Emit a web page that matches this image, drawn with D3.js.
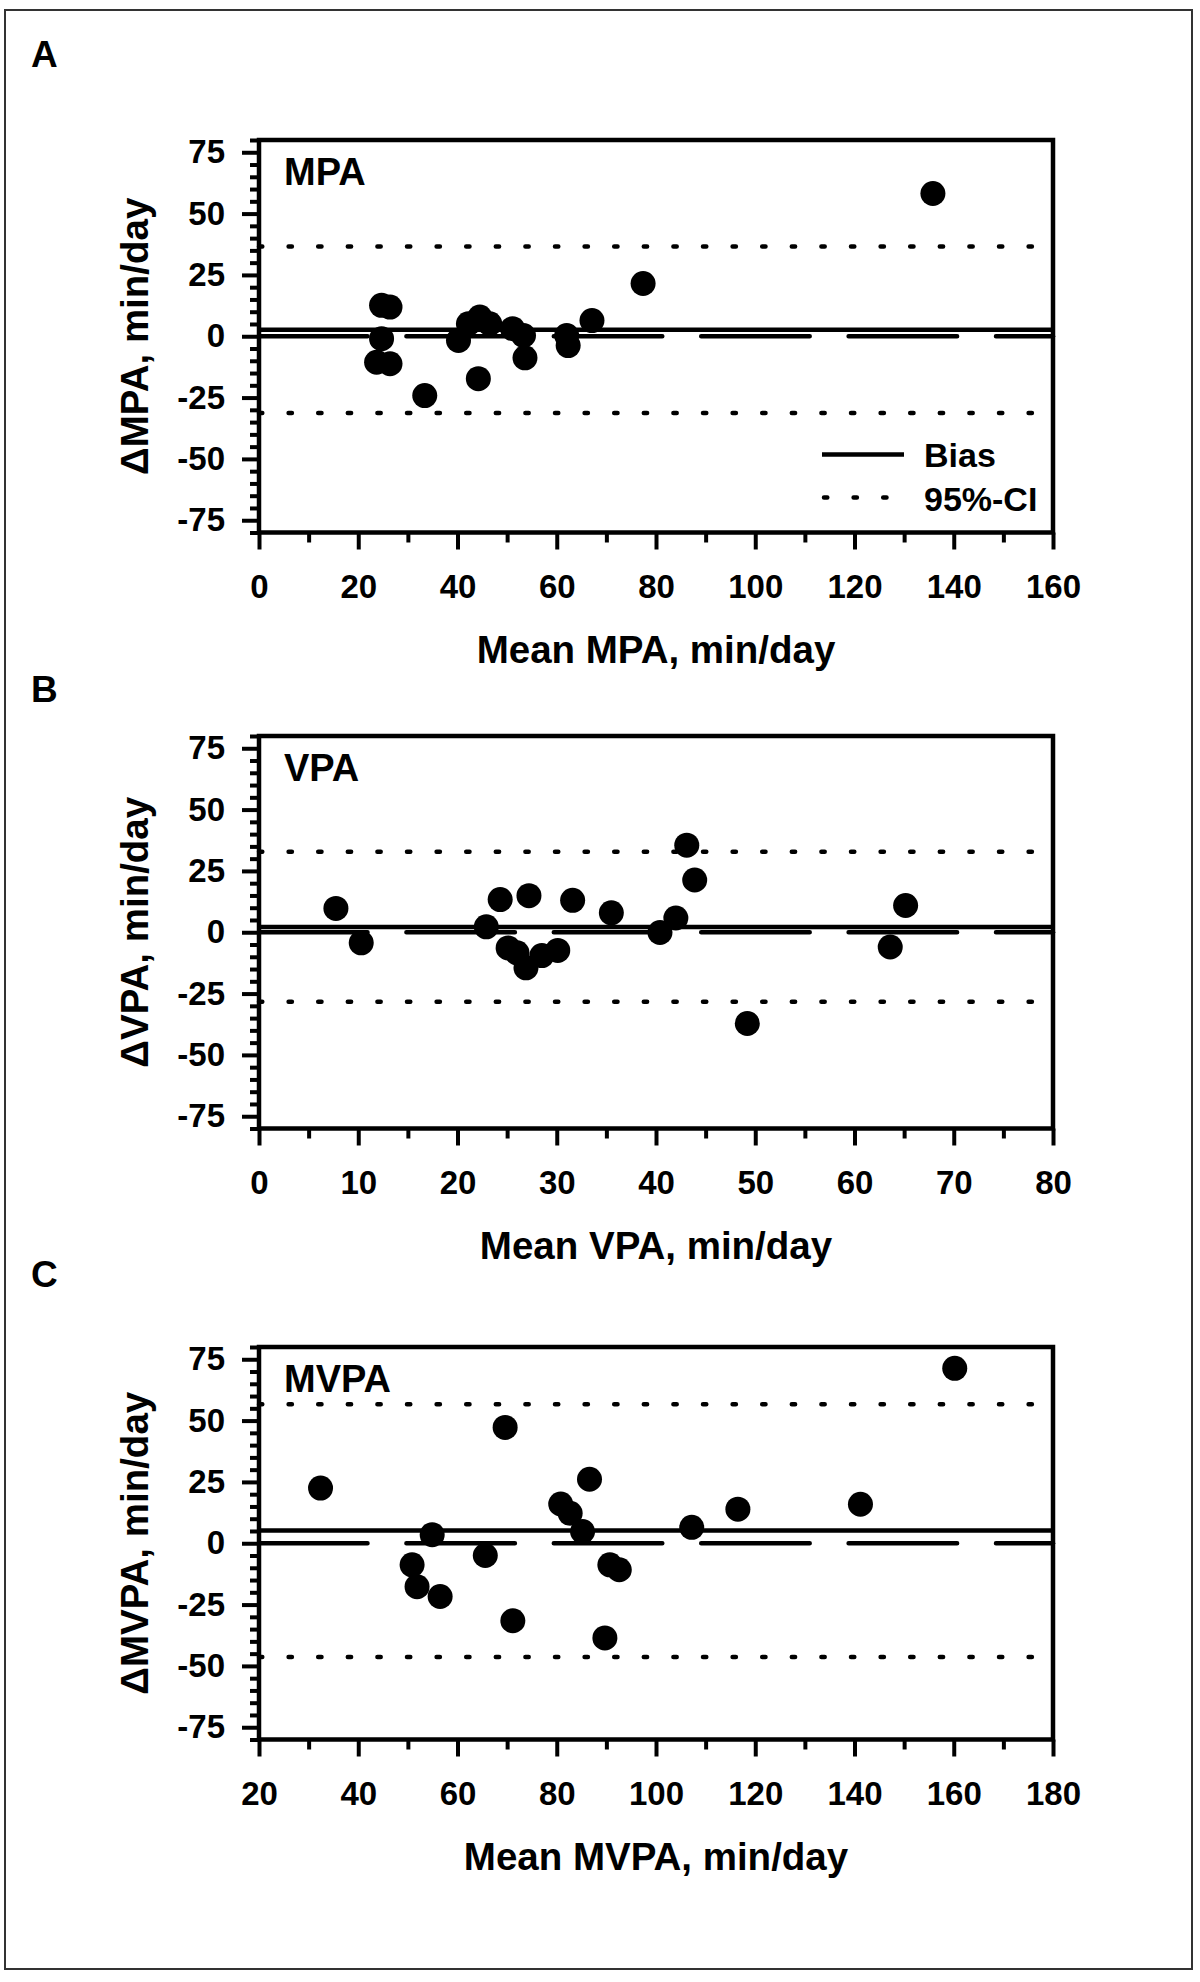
<!DOCTYPE html>
<html lang="en">
<head>
<meta charset="UTF-8">
<title>Bland-Altman MPA / VPA / MVPA</title>
<script src="https://d3js.org/d3.v7.min.js"></script>
<style>
  body { margin: 0; background: #fff; }
  text { font-family: "Liberation Sans", Arial, sans-serif; font-weight: bold; fill: #000; }
</style>
</head>
<body>
<svg id="chart" width="1200" height="1982"></svg>
<script>
// ---- data (mean, difference) ----
var mpaMean  = [24.7, 26.4, 24.7, 23.7, 26.4, 33.4, 40.2, 42.2, 44.5, 46.5, 44.2, 51.1, 53.3, 53.6, 62.0, 62.3, 67.1, 77.4, 135.8];
var mpaDiff  = [12.6, 11.9, -1.0, -10.6, -11.2, -24.2, -1.7, 5.1, 7.8, 5.1, -17.3, 3.1, 0.3, -8.8, 0.3, -3.8, 6.4, 21.5, 58.2];

var vpaMean  = [7.75, 10.3, 22.9, 24.3, 25.1, 26.0, 26.9, 27.2, 28.5, 30.1, 31.6, 35.5, 40.4, 42.0, 43.1, 43.9, 49.2, 63.6, 65.15];
var vpaDiff  = [9.7, -4.3, 2.2, 13.3, -6.4, -8.4, -14.5, 14.9, -9.5, -7.4, 13.0, 7.9, -0.1, 5.8, 35.5, 21.3, -37.2, -6.0, 10.9];

var mvpaMean = [32.4, 50.85, 51.85, 54.9, 56.5, 65.6, 69.6, 71.15, 80.8, 82.7, 85.2, 86.6, 89.7, 90.7, 92.6, 107.2, 116.5, 141.2, 160.2];
var mvpaDiff = [22.5, -8.8, -17.7, 3.5, -21.7, -5.0, 47.2, -31.6, 16.0, 12.2, 4.8, 26.1, -38.6, -8.8, -10.8, 6.5, 13.9, 15.9, 71.3];

// bias, upper and lower 95% limits
var mpaLines  = [2.6, 36.6, -31.3];
var vpaLines  = [2.1, 32.8, -28.3];
var mvpaLines = [5.2, 56.7, -46.4];

var yTicks      = [-75, -50, -25, 0, 25, 50, 75];
var mpaXTicks   = [0, 20, 40, 60, 80, 100, 120, 140, 160];
var vpaXTicks   = [0, 10, 20, 30, 40, 50, 60, 70, 80];
var mvpaXTicks  = [20, 40, 60, 80, 100, 120, 140, 160, 180];
var legendNames = ["Bias", "95%-CI"];

var panels = [
  {letter: "A", name: "MPA",  mean: mpaMean,  diff: mpaDiff,  lines: mpaLines,  xt: mpaXTicks,  top: 140,  letterY: 67,   legend: true},
  {letter: "B", name: "VPA",  mean: vpaMean,  diff: vpaDiff,  lines: vpaLines,  xt: vpaXTicks,  top: 736,  letterY: 702,  legend: false},
  {letter: "C", name: "MVPA", mean: mvpaMean, diff: mvpaDiff, lines: mvpaLines, xt: mvpaXTicks, top: 1347, letterY: 1287, legend: false}
];

var svg = d3.select("#chart");
svg.append("rect").attr("width", 1200).attr("height", 1982).attr("fill", "#fff");
// outer frame
svg.append("rect")
  .attr("x", 5).attr("y", 10).attr("width", 1187).attr("height", 1959)
  .attr("fill", "none").attr("stroke", "#333").attr("stroke-width", 2);

var left = 259, right = 1053, plotH = 392.5;
var lw = 4.5;

panels.forEach(function(p) {
  var bottom = p.top + plotH;
  var xMin = p.xt[0], xMax = p.xt[p.xt.length - 1];
  var step = p.xt[1] - p.xt[0];
  var x = d3.scaleLinear().domain([xMin, xMax]).range([left, right]);
  var y = d3.scaleLinear().domain([-80, 80]).range([bottom, p.top]);

  var g = svg.append("g");

  // panel letter
  svg.append("text").attr("x", 31).attr("y", p.letterY)
    .attr("font-size", 37).text(p.letter);

  // minor ticks
  var yMinor = d3.range(-80, 81, 5).filter(function(v){ return v % 25 !== 0; });
  var xMinor = d3.range(xMin + step / 2, xMax, step);

  var yMinorAxis = g.append("g").attr("transform", "translate(" + left + ",0)")
    .call(d3.axisLeft(y).tickValues(yMinor).tickSize(9).tickFormat(""));
  var xMinorAxis = g.append("g").attr("transform", "translate(0," + bottom + ")")
    .call(d3.axisBottom(x).tickValues(xMinor).tickSize(10).tickFormat(""));

  var yAxis = g.append("g").attr("transform", "translate(" + left + ",0)")
    .call(d3.axisLeft(y).tickValues(yTicks).tickSize(17).tickPadding(17)
      .tickFormat(function(d){ return String(d); }));
  var xAxis = g.append("g").attr("transform", "translate(0," + bottom + ")")
    .call(d3.axisBottom(x).tickValues(p.xt).tickSize(17).tickPadding(25.5)
      .tickFormat(function(d){ return String(d); }));

  [yMinorAxis, xMinorAxis, yAxis, xAxis].forEach(function(a) {
    a.select(".domain").remove();
    a.selectAll("line").attr("stroke", "#000").attr("stroke-width", 4);
    a.selectAll("text").attr("font-size", 33)
      .attr("font-family", "'Liberation Sans', Arial, sans-serif")
      .attr("font-weight", "bold").attr("fill", "#000");
  });

  // reference lines
  var bias = p.lines[0], upper = p.lines[1], lower = p.lines[2];
  g.append("line").attr("x1", left).attr("x2", right)
    .attr("y1", y(0)).attr("y2", y(0))
    .attr("stroke", "#000").attr("stroke-width", lw)
    .attr("stroke-linecap", "round").attr("stroke-dasharray", "108.5,38.9");
  g.append("line").attr("x1", left).attr("x2", right)
    .attr("y1", y(bias)).attr("y2", y(bias))
    .attr("stroke", "#000").attr("stroke-width", lw);
  [upper, lower].forEach(function(v) {
    g.append("line").attr("x1", left).attr("x2", right)
      .attr("y1", y(v)).attr("y2", y(v))
      .attr("stroke", "#000").attr("stroke-width", lw)
      .attr("stroke-linecap", "round").attr("stroke-dasharray", "3.3,26.3");
  });

  // frame of the plot
  g.append("rect").attr("x", left).attr("y", p.top)
    .attr("width", right - left).attr("height", plotH)
    .attr("fill", "none").attr("stroke", "#000").attr("stroke-width", 4.5);

  // points
  g.selectAll("circle").data(p.mean).enter().append("circle")
    .attr("cx", function(d){ return x(d); })
    .attr("cy", function(d, i){ return y(p.diff[i]); })
    .attr("r", 12.5).attr("fill", "#000");

  // labels
  g.append("text").attr("x", 284).attr("y", p.top + 45)
    .attr("font-size", 38).text(p.name);
  g.append("text").attr("x", (left + right) / 2).attr("y", bottom + 130)
    .attr("text-anchor", "middle").attr("font-size", 38.5)
    .text("Mean " + p.name + ", min/day");
  g.append("text")
    .attr("transform", "translate(148," + ((p.top + bottom) / 2) + ") rotate(-90)")
    .attr("text-anchor", "middle").attr("font-size", 38.5)
    .text("\u0394" + p.name + ", min/day");

  if (p.legend) {
    var lg = g.append("g");
    lg.append("line").attr("x1", 822).attr("x2", 904)
      .attr("y1", 454.5).attr("y2", 454.5)
      .attr("stroke", "#000").attr("stroke-width", lw);
    lg.append("line").attr("x1", 824).attr("x2", 890)
      .attr("y1", 497.5).attr("y2", 497.5)
      .attr("stroke", "#000").attr("stroke-width", lw)
      .attr("stroke-linecap", "round").attr("stroke-dasharray", "3.3,26.3");
    lg.append("text").attr("x", 924).attr("y", 467).attr("font-size", 34).text(legendNames[0]);
    lg.append("text").attr("x", 924).attr("y", 511).attr("font-size", 34).text(legendNames[1]);
  }
});
</script>
</body>
</html>
